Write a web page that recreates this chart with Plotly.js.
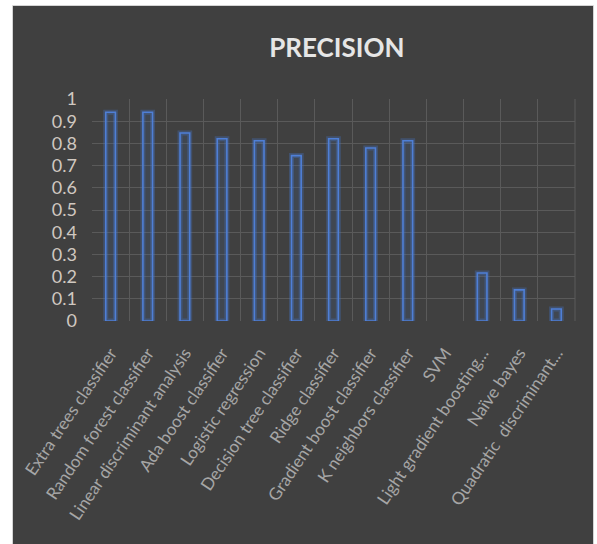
<!DOCTYPE html>
<html>
<head>
<meta charset="utf-8">
<script src="https://cdn.plot.ly/plotly-3.0.1.min.js"></script>
<style>html,body{margin:0;padding:0;background:#fff;}#chart{width:597px;height:544px;}</style>
</head>
<body>
<div id="chart"></div>
<script>
const categories = [
  "Extra trees classifier",
  "Random forest classifier",
  "Linear discriminant analysis",
  "Ada boost classifier",
  "Logistic regression",
  "Decision tree classifier",
  "Ridge classifier",
  "Gradient boost classifier",
  "K neighbors classifier",
  "SVM",
  "Light gradient boosting...",
  "Naïve bayes",
  "Quadratic  discriminant..."
];
const precision = [0.94, 0.94, 0.847, 0.821, 0.812, 0.745, 0.821, 0.779, 0.812, 0, 0.216, 0.14, 0.054];
const yTicks = [0, 0.1, 0.2, 0.3, 0.4, 0.5, 0.6, 0.7, 0.8, 0.9, 1];
const yTickText = ["0", "0.1", "0.2", "0.3", "0.4", "0.5", "0.6", "0.7", "0.8", "0.9", "1"];

const W = 597, H = 544;
const mL = 92, mR = 22, mT = 99, mB = 223;
const pw = W - mL - mR, ph = H - mT - mB;
const px = v => (v - mL) / pw;
const py = v => (H - mB - v) / ph;

const glowW = precision.map(v => v > 0 ? 5 : 0);
const lineW = precision.map(v => v > 0 ? 1.6 : 0);

const glow = {
  type: 'bar', x: categories, y: precision, width: 0.26,
  marker: {color: 'rgba(68,114,196,0.08)', line: {color: 'rgba(68,114,196,0.35)', width: glowW}},
  hoverinfo: 'skip', showlegend: false
};
const bars = {
  type: 'bar', x: categories, y: precision, width: 0.26,
  marker: {color: 'rgba(68,114,196,0.06)', line: {color: '#4f7fd6', width: lineW}},
  showlegend: false
};

const font = "Lato, 'Open Sans', sans-serif";

const layout = {
  width: W, height: H,
  margin: {l: mL, r: mR, t: mT, b: mB},
  paper_bgcolor: '#404040',
  plot_bgcolor: '#404040',
  barmode: 'overlay',
  showlegend: false,
  title: {
    text: '<b>PRECISION</b>',
    font: {family: font, size: 26, color: '#e6e6e6'},
    x: 0.507, xanchor: 'center', xref: 'paper',
    y: 1 - 48 / H, yanchor: 'middle', yref: 'container'
  },
  xaxis: {
    type: 'category',
    tickson: 'boundaries',
    showgrid: true, gridcolor: '#5a5a5a', gridwidth: 1,
    ticks: '', showline: false, zeroline: false,
    tickangle: -56,
    ticklabelstandoff: 18,
    tickfont: {family: font, size: 17, color: '#a6a6a6'},
    range: [-0.5, 12.5]
  },
  yaxis: {
    range: [0, 1],
    tickvals: yTicks, ticktext: yTickText,
    showgrid: true, gridcolor: '#5a5a5a', gridwidth: 1,
    zeroline: false, showline: false, ticks: '',
    ticklabelstandoff: 14,
    tickfont: {family: font, size: 18, color: '#d0c8c0'}
  },
  shapes: [
    {type: 'line', xref: 'paper', yref: 'paper', x0: 1, x1: 1, y0: 0, y1: 1, line: {color: '#5a5a5a', width: 1}, layer: 'below'},
    {type: 'rect', xref: 'paper', yref: 'paper', x0: px(-5), x1: px(13), y0: py(-5), y1: py(H + 5), fillcolor: '#ffffff', line: {width: 0}},
    {type: 'rect', xref: 'paper', yref: 'paper', x0: px(-5), x1: px(W + 5), y0: py(6), y1: py(-5), fillcolor: '#ffffff', line: {width: 0}},
    {type: 'rect', xref: 'paper', yref: 'paper', x0: px(593), x1: px(W + 5), y0: py(-5), y1: py(H + 5), fillcolor: '#ffffff', line: {width: 0}},
    {type: 'rect', xref: 'paper', yref: 'paper', x0: px(12.5), x1: px(593.5), y0: py(H + 2), y1: py(5.5), fillcolor: 'rgba(0,0,0,0)', line: {color: '#d4d4d4', width: 1}}
  ]
};

Plotly.newPlot('chart', [glow, bars], layout, {displayModeBar: false, staticPlot: true});
</script>
</body>
</html>
